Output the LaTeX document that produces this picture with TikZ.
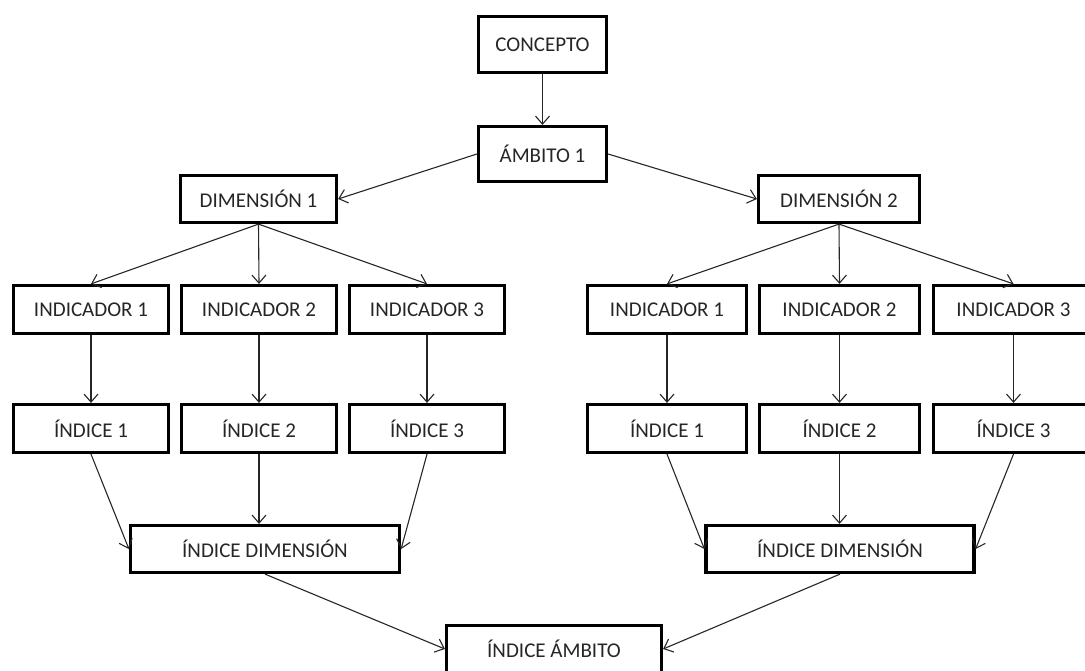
\documentclass[tikz,border=0pt]{standalone}
\usepackage{fontspec}
\setmainfont{Carlito}
\usetikzlibrary{arrows.meta}
\begin{document}
\begin{tikzpicture}[x=1pt,y=-1pt,
  box/.style={draw=black,line width=3.2pt,fill=white,inner sep=0pt,
    font=\fontsize{21}{25}\selectfont,text=black!85},
  conn/.style={line width=1.1pt,draw=black!85,
    -{Straight Barb[length=8pt,width=14pt,line width=1.1pt]}}]
\useasboundingbox (0,0) rectangle (1085,670);
\clip (0,0) rectangle (1085,670);
% top
\node[box,minimum width=128pt,minimum height=56pt] (concepto) at (542.5,44.5) {CONCEPTO};
\node[box,minimum width=128pt,minimum height=55pt] (ambito) at (542.5,154) {ÁMBITO 1};
% dimensions
\node[box,minimum width=156pt,minimum height=47pt] (dimA) at (258.5,199) {DIMENSIÓN 1};
\node[box,minimum width=161pt,minimum height=47pt] (dimB) at (839,199) {DIMENSIÓN 2};
% indicators left
\node[box,minimum width=155pt,minimum height=48pt] (indA1) at (91,309.5) {INDICADOR 1};
\node[box,minimum width=155pt,minimum height=48pt] (indA2) at (259,309.5) {INDICADOR 2};
\node[box,minimum width=155pt,minimum height=48pt] (indA3) at (427,309.5) {INDICADOR 3};
% indicators right
\node[box,minimum width=159pt,minimum height=48pt] (indB1) at (667,309.5) {INDICADOR 1};
\node[box,minimum width=160pt,minimum height=48pt] (indB2) at (839.5,309.5) {INDICADOR 2};
\node[box,minimum width=160pt,minimum height=48pt] (indB3) at (1013.5,309.5) {INDICADOR 3};
% indices left
\node[box,minimum width=155pt,minimum height=48pt] (idxA1) at (91,428.5) {ÍNDICE 1};
\node[box,minimum width=155pt,minimum height=48pt] (idxA2) at (259,428.5) {ÍNDICE 2};
\node[box,minimum width=155pt,minimum height=48pt] (idxA3) at (427,428.5) {ÍNDICE 3};
% indices right
\node[box,minimum width=159pt,minimum height=48pt] (idxB1) at (667,428.5) {ÍNDICE 1};
\node[box,minimum width=160pt,minimum height=48pt] (idxB2) at (839.5,428.5) {ÍNDICE 2};
\node[box,minimum width=160pt,minimum height=48pt] (idxB3) at (1013.5,428.5) {ÍNDICE 3};
% dimension indices
\node[box,minimum width=269pt,minimum height=47pt] (idimA) at (265,549) {ÍNDICE DIMENSIÓN};
\node[box,minimum width=268pt,minimum height=47pt] (idimB) at (840,549) {ÍNDICE DIMENSIÓN};
% scope index
\node[box,minimum width=215pt,minimum height=47pt] (iamb) at (554,649) {ÍNDICE ÁMBITO};
% connectors
\draw[conn] (concepto.south) -- (ambito.north);
\draw[conn] (ambito.west) -- (dimA.east);
\draw[conn] (ambito.east) -- (dimB.west);
\foreach \d/\s in {dimA/A,dimB/B}{
  \foreach \i in {1,2,3}{
    \draw[conn] (\d.south) -- (ind\s\i.north);
    \draw[conn] (ind\s\i.south) -- (idx\s\i.north);
  }
  \draw[conn] (idx\s1.south) -- (idim\s.west);
  \draw[conn] (idx\s2.south) -- (idx\s2.south |- idim\s.north);
  \draw[conn] (idx\s3.south) -- (idim\s.east);
}
\draw[conn] (idimA.south) -- (iamb.west);
\draw[conn] (idimB.south) -- (iamb.east);
\end{tikzpicture}
\end{document}
